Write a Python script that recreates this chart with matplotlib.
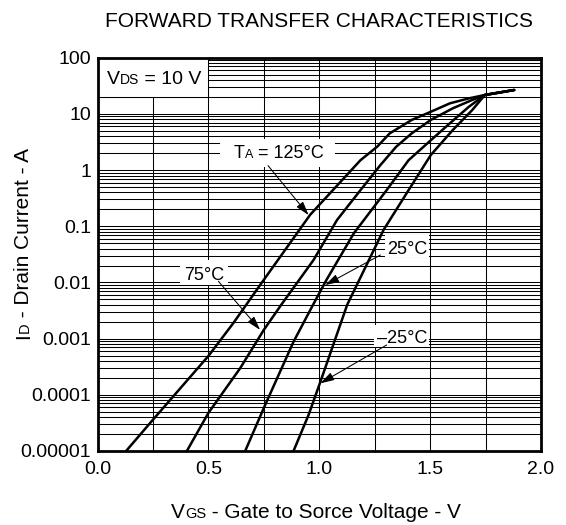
import matplotlib
matplotlib.use('Agg')
import matplotlib.pyplot as plt
from matplotlib.ticker import FixedLocator, FixedFormatter, LogLocator, NullFormatter, MultipleLocator
from matplotlib.patches import Rectangle
from matplotlib.transforms import offset_copy

plt.rcParams['font.family'] = ['Liberation Sans', 'DejaVu Sans']

# ---------------- data ----------------
vgs_125 = [0.129, 0.25, 0.50, 0.613, 0.74, 0.959, 1.186, 1.261, 1.318, 1.417, 1.503, 1.589, 1.675, 1.747, 1.879]
id_125 = [1e-5, 3.6e-5, 4.9e-4, 1.9e-3, 9.8e-3, 0.16, 1.5, 2.6, 4.5, 7.8, 10.9, 15.4, 18.9, 21.7, 26.6]

vgs_75 = [0.403, 0.50, 0.643, 0.75, 0.828, 0.974, 1.080, 1.186, 1.276, 1.347, 1.417, 1.503, 1.603, 1.690, 1.747, 1.879]
id_75 = [1e-5, 4.75e-5, 2.96e-4, 1.43e-3, 3.97e-3, 0.025, 0.129, 0.44, 1.23, 2.6, 4.5, 7.8, 12.6, 17.7, 21.7, 26.6]

vgs_25 = [0.666, 0.756, 0.884, 0.972, 1.032, 1.156, 1.304, 1.403, 1.488, 1.589, 1.675, 1.747, 1.879]
id_25 = [1e-5, 6.6e-5, 8.8e-4, 4.0e-3, 0.011, 0.075, 0.44, 1.5, 3.0, 6.8, 13.4, 21.7, 26.6]

vgs_m25 = [0.884, 0.952, 1.005, 1.126, 1.290, 1.403, 1.503, 1.603, 1.690, 1.747, 1.879]
id_m25 = [1e-5, 4.4e-5, 1.7e-4, 4.0e-3, 0.086, 0.44, 1.85, 5.2, 11.7, 21.7, 26.6]

xtick_vals = [0.0, 0.5, 1.0, 1.5, 2.0]
xtick_labels = ['0.0', '0.5', '1.0', '1.5', '2.0']
ytick_vals = [1e-5, 1e-4, 1e-3, 1e-2, 1e-1, 1, 10, 100]
ytick_labels = ['0.00001', '0.0001', '0.001', '0.01', '0.1', '1', '10', '100']

title = 'FORWARD TRANSFER CHARACTERISTICS'
curve_labels = ['125°C', '75°C', '25°C', '–25°C']

# ---------------- figure ----------------
fig = plt.figure(figsize=(5.66, 5.25), dpi=100)
ax = fig.add_axes([0.1723, 0.1410, 0.7835, 0.7491])
ax.set_yscale('log')
ax.set_xlim(0, 2)
ax.set_ylim(1e-5, 100)

ax.xaxis.set_major_locator(FixedLocator(xtick_vals))
ax.xaxis.set_major_formatter(FixedFormatter(xtick_labels))
ax.xaxis.set_minor_locator(MultipleLocator(0.25))
ax.yaxis.set_major_locator(FixedLocator(ytick_vals))
ax.yaxis.set_major_formatter(FixedFormatter(ytick_labels))
ax.yaxis.set_minor_locator(LogLocator(base=10, subs=range(2, 10), numticks=30))
ax.yaxis.set_minor_formatter(NullFormatter())
ax.tick_params(which='both', length=0)
ax.tick_params(axis='y', labelsize=14, pad=4.5)
ax.tick_params(axis='x', labelsize=14, pad=7)
ax.set_axisbelow(True)
ax.grid(True, which='both', color='black', lw=0.75)
for sp in ax.spines.values():
    sp.set_linewidth(2)

# white boxes behind annotations
ax.add_patch(Rectangle((0, 20), 0.5, 80, facecolor='white', edgecolor='black', lw=0.75, zorder=1.5))
for (x0, x1, y0, y1) in [(0.553, 1.073, 1.14, 3.57), (0.373, 0.589, 0.0090, 0.0251),
                         (1.297, 1.497, 0.0284, 0.070), (1.245, 1.497, 7.1e-4, 1.75e-3)]:
    ax.add_patch(Rectangle((x0, y0), x1 - x0, y1 - y0, facecolor='white', edgecolor='none', zorder=1.5))

for v, i in [(vgs_125, id_125), (vgs_75, id_75), (vgs_25, id_25), (vgs_m25, id_m25)]:
    ax.plot(v, i, color='black', lw=1.8, zorder=3, solid_joinstyle='round', solid_capstyle='round')

# arrows
arrow_kw = dict(arrowstyle='-|>,head_length=0.6,head_width=0.18', color='black', lw=0.75,
                shrinkA=0, shrinkB=0, mutation_scale=14)
for start, tip in [((0.769, 1.2), (0.952, 0.158)), ((0.545, 0.0105), (0.733, 1.43e-3)),
                   ((1.276, 0.0308), (1.027, 0.009)), ((1.304, 7.7e-4), (1.005, 1.6e-4))]:
    ax.annotate('', xy=tip, xytext=start, arrowprops=arrow_kw, zorder=4)


def rich_text(x, y, pieces, transform, rotation=0, zorder=5):
    renderer = fig.canvas.get_renderer()
    widths = []
    for s, fs in pieces:
        t = fig.text(0, 0, s, fontsize=fs)
        widths.append(t.get_window_extent(renderer).width)
        t.remove()
    off = -sum(widths) / 2
    for (s, fs), w in zip(pieces, widths):
        if rotation == 0:
            tr = offset_copy(transform, fig=fig, x=off, y=0, units='dots')
        else:
            tr = offset_copy(transform, fig=fig, x=0, y=off, units='dots')
        fig.text(x, y, s, fontsize=fs, transform=tr, ha='left', va='baseline',
                 rotation=rotation, rotation_mode='anchor', zorder=zorder)
        off += w


rich_text(0.254, 34.5, [('V', 14), ('DS', 10), (' = 10 V', 14)], ax.transData)
rich_text(0.819, 1.61, [('T', 13), ('A', 9), (' = ' + curve_labels[0], 13)], ax.transData)
rich_text(0.481, 0.01107, [(curve_labels[1], 13)], ax.transData)
rich_text(1.399, 0.0321, [(curve_labels[2], 13)], ax.transData)
rich_text(1.374, 8.2e-4, [(curve_labels[3], 13)], ax.transData)

fig.text(0.5636, 0.949, title, ha='center', va='baseline', fontsize=15)
rich_text(0.558, 0.0124, [('V', 15), ('GS', 10.5), (' - Gate to Sorce Voltage - V', 15)], fig.transFigure)
rich_text(0.0512, 0.5362, [('I', 15), ('D', 10.5), (' - Drain Current - A', 15)], fig.transFigure, rotation=90)

fig.savefig('out.png', dpi=100)
